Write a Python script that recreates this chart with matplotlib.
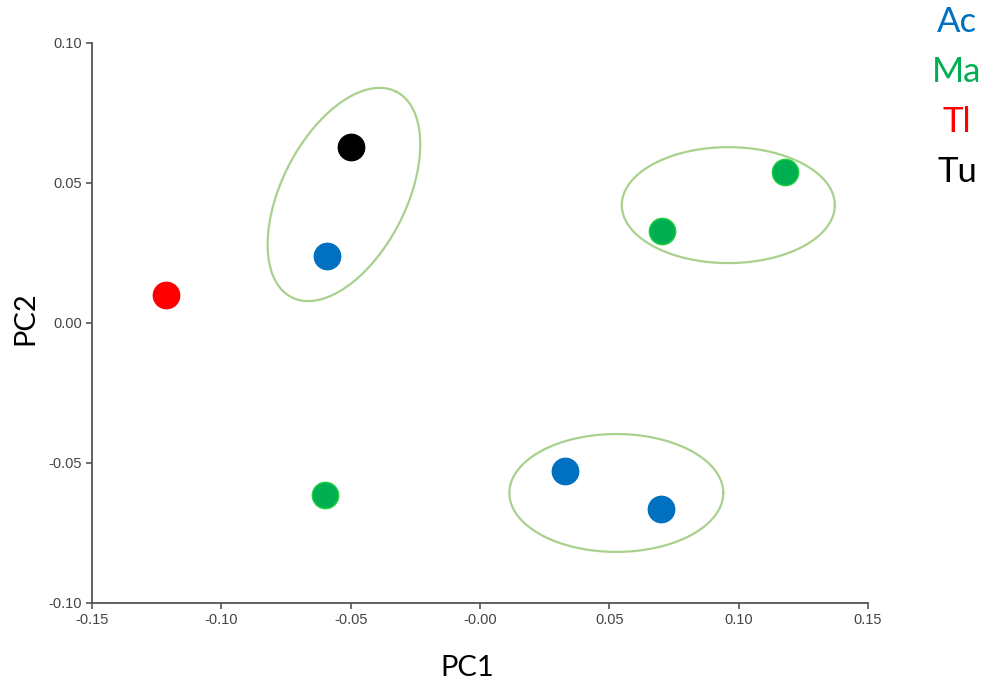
import numpy as np
import matplotlib
matplotlib.use('Agg')
import matplotlib.pyplot as plt

# ------ data ------
groups = ['Ac', 'Ma', 'Tl', 'Tu']
group_colors = ['#0070C0', '#00B050', '#FF0000', '#000000']
edge_colors = ['#0070C0', '#20D040', '#FF0000', '#000000']

pc1 = [-0.0499, -0.0591, -0.1214, -0.0599, 0.0329, 0.0700, 0.0704, 0.1179]
pc2 = [0.0629, 0.0239, 0.0100, -0.0614, -0.0529, -0.0664, 0.0329, 0.0539]
grp = ['Tu', 'Ac', 'Tl', 'Ma', 'Ac', 'Ac', 'Ma', 'Ma']

# group ellipses: centre (data), full width / height (in PC2 units), angle (deg)
ell_cx = [-0.0526, 0.0960, 0.0527]
ell_cy = [0.0459, 0.0421, -0.0607]
ell_w = [0.0824, 0.0761, 0.0764]
ell_h = [0.0445, 0.0414, 0.0421]
ell_ang = [63, 0, 0]

xticks = [-0.15, -0.10, -0.05, 0.0, 0.05, 0.10, 0.15]
xticklabels = ['-0.15', '-0.10', '-0.05', '-0.00', '0.05', '0.10', '0.15']
yticks = [-0.10, -0.05, 0.0, 0.05, 0.10]
yticklabels = ['-0.10', '-0.05', '0.00', '0.05', '0.10']

# ------ figure ------
fig = plt.figure(figsize=(9.82, 6.84), dpi=100)
ax = fig.add_axes([92 / 982, 81 / 684, 776 / 982, 560 / 684])
ax.set_xlim(-0.15, 0.15)
ax.set_ylim(-0.10, 0.10)

# ellipses (drawn in screen-proportional units so the shape is not squashed)
sx = 0.3 / 776   # data per pixel, x
sy = 0.2 / 560   # data per pixel, y
t = np.linspace(0, 2 * np.pi, 300)
for cx, cy, w, h, a in zip(ell_cx, ell_cy, ell_w, ell_h, ell_ang):
    pa = w / 2 / sy
    pb = h / 2 / sy
    th = np.deg2rad(a)
    px = pa * np.cos(t) * np.cos(th) - pb * np.sin(t) * np.sin(th)
    py = pa * np.cos(t) * np.sin(th) + pb * np.sin(t) * np.cos(th)
    ax.plot(cx + px * sx, cy + py * sy, color='#A9D18E', lw=1.6, zorder=1)

# points
cmap = dict(zip(groups, group_colors))
emap = dict(zip(groups, edge_colors))
for x, y, g in zip(pc1, pc2, grp):
    ax.scatter(x, y, s=360, color=cmap[g], edgecolors=emap[g], linewidths=1.0, zorder=3)

# axes styling
for side in ['top', 'right']:
    ax.spines[side].set_visible(False)
for side in ['left', 'bottom']:
    ax.spines[side].set_color('#555555')
    ax.spines[side].set_linewidth(1.3)
ax.set_xticks(xticks)
ax.set_xticklabels(xticklabels)
ax.set_yticks(yticks)
ax.set_yticklabels(yticklabels)
ax.tick_params(direction='out', length=4, width=1.2, color='#555555',
               labelcolor='#444444', labelsize=10.5, pad=3)
for lab in ax.get_xticklabels() + ax.get_yticklabels():
    lab.set_family('Liberation Sans')

# axis titles
fig.text(467 / 982, 1 - 668 / 684, 'PC1', fontsize=21, family='Lato',
         ha='center', va='center')
fig.text(25 / 982, 1 - 318 / 684, 'PC2', fontsize=21, family='Lato',
         ha='center', va='center', rotation=90)

# legend as coloured text
for i, (g, c) in enumerate(zip(groups, group_colors)):
    fig.text(957 / 982, 1 - (22 + 50 * i) / 684, g, fontsize=25, family='Lato',
             color=c, ha='center', va='center')

fig.savefig('out.png', dpi=100)
